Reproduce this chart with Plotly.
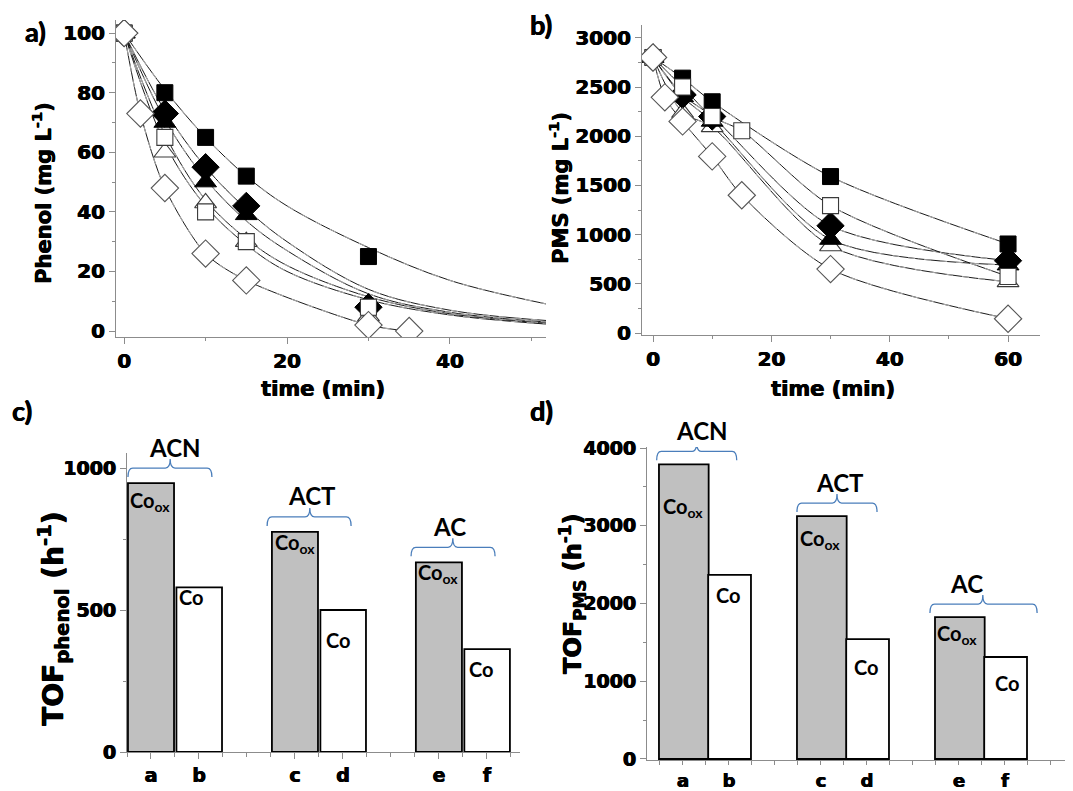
import plotly.graph_objects as go

W, H = 1073, 791

# ---------------- DATA ----------------
# panel a : phenol concentration (mg/L) vs time (min)
t_a = [0, 5, 10, 15, 30]
phenol_filled_square = [100, 80, 65, 52, 25]
phenol_filled_diamond = [100, 73, 55, 42, 8]
phenol_filled_triangle = [100, 70, 50, 39, 4]
phenol_open_square = [100, 65, 40, 30, 8]
phenol_open_triangle = [100, 60, 43, 30, 5]
t_a_open_diamond = [0, 2, 5, 10, 15, 30, 35]
phenol_open_diamond = [100, 73, 48, 26, 17, 2, 0]

# panel a : fitted curves
t_fit_a = [0, 5, 10, 15, 20, 30, 40, 52]
fit_a_filled_square = [100, 81, 65, 52, 42, 28, 17, 9]
fit_a_filled_diamond = [100, 74, 55, 41, 30, 14, 7, 3.5]
fit_a_filled_triangle = [100, 71, 51, 37, 27, 12.5, 6.3, 3]
fit_a_open_square = [100, 66, 44, 31, 22, 11.5, 5.8, 2.6]
fit_a_open_triangle = [100, 63, 42, 29, 20, 10.5, 5.4, 2.3]

# panel b : PMS concentration (mg/L) vs time (min)
t_b = [0, 5, 10, 30, 60]
pms_filled_square = [2800, 2590, 2350, 1590, 905]
pms_filled_diamond = [2800, 2420, 2200, 1090, 735]
pms_filled_triangle = [2800, 2400, 2150, 950, 690]
t_b_open_square = [0, 5, 10, 15, 30, 60]
pms_open_square = [2800, 2500, 2200, 2055, 1295, 575]
pms_open_triangle = [2800, 2240, 2095, 885, 520]
t_b_open_diamond = [0, 2, 5, 10, 15, 30, 60]
pms_open_diamond = [2800, 2395, 2150, 1795, 1400, 650, 145]

# panels c, d : turnover frequencies
samples = ["a", "b", "c", "d", "e", "f"]
supports = ["ACN", "ACT", "AC"]
cobalt_state = ["Co<sub>ox</sub>", "Co", "Co<sub>ox</sub>", "Co", "Co<sub>ox</sub>", "Co"]
tof_phenol = [947, 580, 775, 500, 668, 362]
tof_pms = [3790, 2367, 3125, 1543, 1826, 1312]

# ---------------- helpers ----------------
PAGE_OFF = 8  # default page margin of the html body

def fx(px):
    return (px - PAGE_OFF) / W

def fy(py):
    return 1 - (py - PAGE_OFF) / H

AX_FONT = "DejaVu Sans"
CAL_FONT = "Lato"
AXIS_GRAY = "#8c8c8c"
HEAVY = "0.6px 0px 0px black, -0.3px 0px 0px black"

fig = go.Figure()

def add_curve(xs, ys, xa, ya, smooth=1.0):
    fig.add_trace(go.Scatter(x=xs, y=ys, mode="lines", xaxis=xa, yaxis=ya,
                             line=dict(color="black", width=0.9, shape="spline", smoothing=smooth),
                             hoverinfo="skip", showlegend=False))
    fig.add_trace(go.Scatter(x=xs, y=ys, mode="lines", xaxis=xa, yaxis=ya,
                             line=dict(color="#a8a8a8", width=1.1, shape="spline", smoothing=smooth,
                                       dash="7px,9px"),
                             hoverinfo="skip", showlegend=False))

MARK = {
    "filled_square": dict(symbol="square", size=16, color="black", line=dict(color="black", width=1)),
    "filled_diamond": dict(symbol="diamond", size=21, color="black", line=dict(color="black", width=1)),
    "filled_triangle": dict(symbol="triangle-up", size=19, color="black", line=dict(color="black", width=1)),
    "open_square": dict(symbol="square", size=16, color="white", line=dict(color="#3a3a3a", width=1.1)),
    "open_triangle": dict(symbol="triangle-up", size=19, color="white", line=dict(color="#3a3a3a", width=1.1)),
    "open_diamond": dict(symbol="diamond", size=21, color="white", line=dict(color="#555555", width=1.1)),
}

def add_markers(xs, ys, kind, xa, ya):
    fig.add_trace(go.Scatter(x=xs, y=ys, mode="markers", xaxis=xa, yaxis=ya,
                             marker=MARK[kind], showlegend=False))

# ---- panel a curves ----
add_curve(t_fit_a, fit_a_filled_square, "x", "y")
add_curve(t_fit_a, fit_a_filled_diamond, "x", "y")
add_curve(t_fit_a, fit_a_filled_triangle, "x", "y")
add_curve(t_fit_a, fit_a_open_square, "x", "y")
add_curve(t_fit_a, fit_a_open_triangle, "x", "y")
add_curve(t_a_open_diamond, phenol_open_diamond, "x", "y", 0.8)
# ---- panel a markers ----
add_markers(t_a, phenol_open_triangle, "open_triangle", "x", "y")
add_markers(t_a, phenol_filled_triangle, "filled_triangle", "x", "y")
add_markers(t_a, phenol_filled_diamond, "filled_diamond", "x", "y")
add_markers(t_a, phenol_filled_square, "filled_square", "x", "y")
add_markers(t_a, phenol_open_square, "open_square", "x", "y")
add_markers(t_a_open_diamond, phenol_open_diamond, "open_diamond", "x", "y")

# ---- panel b ----
add_curve(t_b, pms_filled_square, "x2", "y2", 0.8)
add_curve(t_b, pms_filled_diamond, "x2", "y2", 0.8)
add_curve(t_b, pms_filled_triangle, "x2", "y2", 0.8)
add_curve(t_b_open_square, pms_open_square, "x2", "y2", 0.8)
add_curve(t_b, pms_open_triangle, "x2", "y2", 0.8)
add_curve(t_b_open_diamond, pms_open_diamond, "x2", "y2", 0.8)
add_markers(t_b, pms_open_triangle, "open_triangle", "x2", "y2")
add_markers(t_b, pms_filled_triangle, "filled_triangle", "x2", "y2")
add_markers(t_b, pms_filled_diamond, "filled_diamond", "x2", "y2")
add_markers(t_b, pms_filled_square, "filled_square", "x2", "y2")
add_markers(t_b_open_square, pms_open_square, "open_square", "x2", "y2")
add_markers(t_b_open_diamond, pms_open_diamond, "open_diamond", "x2", "y2")

# ---- bars (c, d) ----
pos = [3 * (i // 2) + (i % 2) for i in range(len(samples))]
ox_idx = [i for i in range(len(samples)) if i % 2 == 0]
co_idx = [i for i in range(len(samples)) if i % 2 == 1]

def add_bars(vals, xa, ya, ox_off, ox_w, co_off, co_w):
    fig.add_trace(go.Bar(x=[pos[i] for i in ox_idx], y=[vals[i] for i in ox_idx],
                         xaxis=xa, yaxis=ya, offset=ox_off, width=ox_w,
                         marker=dict(color="#c0c0c0", line=dict(color="black", width=1.8)),
                         showlegend=False))
    fig.add_trace(go.Bar(x=[pos[i] for i in co_idx], y=[vals[i] for i in co_idx],
                         xaxis=xa, yaxis=ya, offset=co_off, width=co_w,
                         marker=dict(color="white", line=dict(color="black", width=1.8)),
                         showlegend=False))

add_bars(tof_phenol, "x3", "y3", -0.48, 0.96, -0.47, 0.95)
add_bars(tof_pms, "x4", "y4", -0.52, 1.08, -0.45, 0.93)

# ---------------- axes ----------------
def tfont(size):
    return dict(family=AX_FONT, size=size, color="black", weight=700, shadow=HEAVY)

def lin_axis(domain, rng, dtick, minor_dtick, tickfont=20, **kw):
    d = dict(domain=domain, range=rng, showgrid=False, zeroline=False, automargin=False,
             showline=True, linecolor=AXIS_GRAY, linewidth=1.2,
             ticks="outside", ticklen=6, tickwidth=1.2, tickcolor=AXIS_GRAY,
             tickmode="linear", tick0=0, dtick=dtick,
             minor=dict(ticks="outside", ticklen=3, tickcolor=AXIS_GRAY, dtick=minor_dtick, tick0=0),
             tickfont=tfont(tickfont))
    d.update(kw)
    return d

def cat_axis(domain, rng, anchor, size, tlen):
    return dict(domain=domain, range=rng, anchor=anchor, automargin=False,
                showgrid=False, zeroline=False, showline=True, linecolor=AXIS_GRAY, linewidth=1.2,
                tickmode="array", tickvals=pos, ticktext=samples,
                ticks="outside", ticklen=tlen, tickcolor=AXIS_GRAY, tickwidth=1.2,
                minor=dict(ticks="outside", ticklen=4, tickcolor=AXIS_GRAY, tickmode="linear",
                           tick0=-0.5, dtick=0.5),
                tickfont=tfont(size))

layout = dict(
    width=W, height=H, margin=dict(l=0, r=0, t=0, b=0, pad=0, autoexpand=False),
    paper_bgcolor="white", plot_bgcolor="rgba(0,0,0,0)", barmode="overlay",
    showlegend=False,
    xaxis=lin_axis([fx(116), fx(546)], [-1, 51.8], 20, 10, anchor="y"),
    yaxis=lin_axis([fy(337), fy(20)], [-2, 104.4], 20, 10, anchor="x"),
    xaxis2=lin_axis([fx(642), fx(1040)], [-1.86, 65.4], 20, 10, anchor="y2"),
    yaxis2=lin_axis([fy(335), fy(25)], [-20, 3130], 500, 250, anchor="x2"),
    xaxis3=cat_axis([fx(127), fx(520)], [-0.5, 7.69], "y3", 19, 6),
    yaxis3=lin_axis([fy(752), fy(453)], [0, 1053], 500, 250, tickfont=19, anchor="x3"),
    xaxis4=cat_axis([fx(647), min(1.0, fx(1073))], [-0.78, 8.48], "y4", 18, 4),
    yaxis4=lin_axis([fy(760), fy(447)], [-13, 4013], 1000, 500, tickfont=19, anchor="x4"),
)
fig.update_layout(**layout)

# ---------------- annotations ----------------
ann = []

def paper_text(text, px, py, size, family=AX_FONT, angle=0, shadow=HEAVY):
    ann.append(dict(text="<b>" + text + "</b>", x=fx(px), y=fy(py), xref="paper", yref="paper",
                    xanchor="center", yanchor="middle", showarrow=False, textangle=angle,
                    font=dict(family=family, size=size, color="black", shadow=shadow)))

paper_text("a)", 35, 31, 27, CAL_FONT)
paper_text("b)", 541, 24, 27, CAL_FONT)
paper_text("c)", 22, 410, 27, CAL_FONT)
paper_text("d)", 541, 410, 27, CAL_FONT)

paper_text("Phenol (mg L<sup>-1</sup>)", 42, 193, 21, angle=-90)
paper_text("PMS (mg L<sup>-1</sup>)", 559, 188, 21, angle=-90)
paper_text("time (min)", 323, 389, 21)
paper_text("time (min)", 833, 389, 21)
paper_text("TOF<sub>phenol</sub> (h<sup>-1</sup>)", 53, 619, 28, angle=-90)
paper_text("TOF<sub>PMS</sub> (h<sup>-1</sup>)", 572, 594, 24, angle=-90)

# labels inside bars (pixel offsets from bar top-left corner)
label_off_c = [(2, 14), (3, 10), (3, 8), (6, 30), (2, 7), (5, 20)]
label_off_d = [(4, 39), (8, 20), (3, 19), (8, 28), (2, 13), (11, 26)]
bar_left_c = [-0.48, -0.47]
bar_left_d = [-0.52, -0.45]

def bar_labels(vals, xa, ya, offs, lefts, size):
    for i, v in enumerate(vals):
        dx, dy = offs[i]
        sub = "<sub>" in cobalt_state[i]
        ann.append(dict(text="<b>" + cobalt_state[i] + "</b>", x=pos[i] + lefts[i % 2], y=v,
                        xref=xa, yref=ya, xanchor="left", yanchor="middle", xshift=dx - 2,
                        yshift=-(dy + (4 if sub else 0)), showarrow=False,
                        font=dict(family=CAL_FONT, size=size, color="black")))

bar_labels(tof_phenol, "x3", "y3", label_off_c, bar_left_c, 20)
bar_labels(tof_pms, "x4", "y4", label_off_d, bar_left_d, 20)

# brackets over each support group
shapes = []
# (left, right, center, label x) relative to first bar of group
brace_c = [(-0.48, 1.27, 0.40, 0.50), (-0.58, 1.17, 0.31, 0.35), (-0.58, 1.17, 0.29, 0.23)]
brace_d = [(-0.57, 1.17, 0.30, 0.41), (-0.52, 1.22, 0.35, 0.41), (-0.63, 1.70, 0.52, 0.17)]

def braces(vals, xa, ya, geo, ppu, gap_px):
    for g, name in enumerate(supports):
        x0 = pos[2 * g]
        top = max(vals[2 * g], vals[2 * g + 1])
        yl = top + gap_px / ppu
        d = 9 / ppu
        l, r, c, lx = geo[g]
        xl, xr, xc = x0 + l, x0 + r, x0 + c
        rx = 0.1
        path = (f"M {xl},{yl - d} Q {xl},{yl} {xl + rx},{yl} L {xc - rx},{yl} "
                f"Q {xc},{yl} {xc},{yl + d} Q {xc},{yl} {xc + rx},{yl} L {xr - rx},{yl} "
                f"Q {xr},{yl} {xr},{yl - d}")
        shapes.append(dict(type="path", path=path, xref=xa, yref=ya,
                           line=dict(color="#4a7ebb", width=1.3)))
        ann.append(dict(text="<b>" + name + "</b>", x=x0 + lx, y=yl, xref=xa, yref=ya,
                        xanchor="center", yanchor="middle", yshift=21, showarrow=False,
                        font=dict(family=CAL_FONT, size=24, color="black")))

braces(tof_phenol, "x3", "y3", brace_c, 299 / 1053, 15)
braces(tof_pms, "x4", "y4", brace_d, 313 / 4026, 13)

fig.update_layout(annotations=ann, shapes=shapes)
fig.write_html("out.html")
